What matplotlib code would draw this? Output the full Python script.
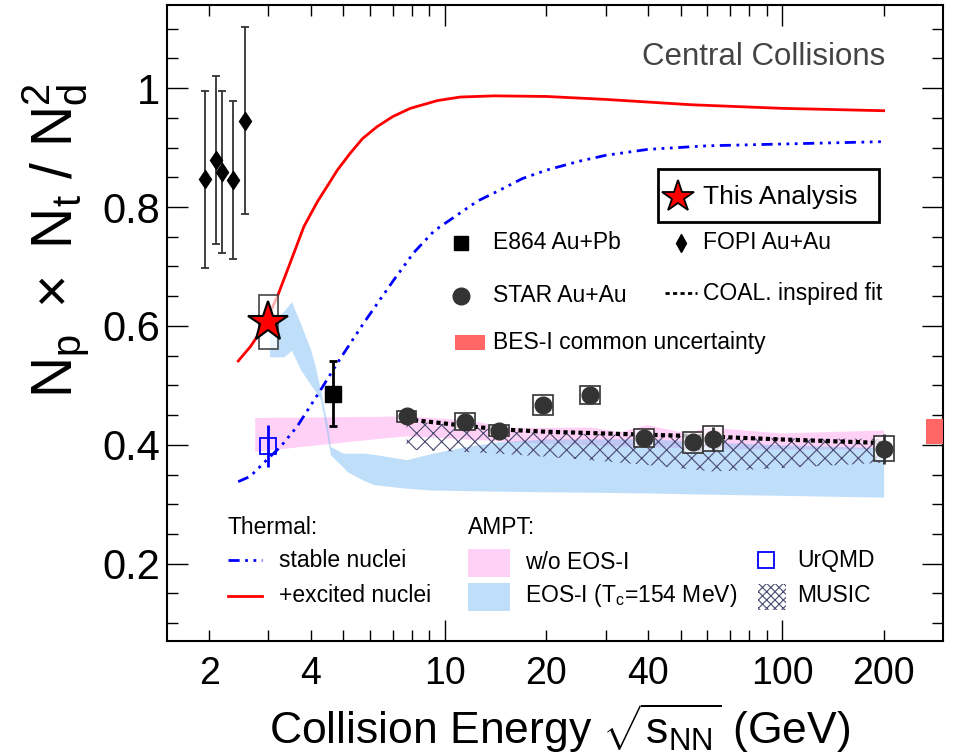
import numpy as np
import matplotlib
matplotlib.use("Agg")
import matplotlib.pyplot as plt
from matplotlib.patches import Rectangle
from matplotlib.ticker import FixedLocator, FuncFormatter

plt.rcParams['font.family'] = ['Liberation Sans', 'DejaVu Sans']
plt.rcParams['mathtext.fontset'] = 'custom'
plt.rcParams['mathtext.rm'] = 'Liberation Sans'
plt.rcParams['mathtext.it'] = 'Liberation Sans'
plt.rcParams['mathtext.sf'] = 'Liberation Sans'
plt.rcParams['hatch.linewidth'] = 0.8

# --- measurements ---
this_e = [3.0]
this_y = [0.607]
this_sys = [0.045]

star_e = [7.7, 11.5, 14.5, 19.6, 27, 39, 54.4, 62.4, 200]
star_y = [0.448, 0.439, 0.424, 0.467, 0.484, 0.412, 0.404, 0.410, 0.393]
star_stat = [0.004, 0.005, 0.004, 0.005, 0.005, 0.005, 0.006, 0.020, 0.026]
star_sys = [0.009, 0.014, 0.009, 0.016, 0.015, 0.015, 0.017, 0.021, 0.021]

e864_e = [4.65]
e864_y = [0.486]
e864_err = [0.055]

fopi_e = [1.95, 2.09, 2.18, 2.35, 2.55]
fopi_y = [0.847, 0.879, 0.859, 0.845, 0.945]
fopi_err = [0.149, 0.142, 0.137, 0.133, 0.157]

urqmd_e = [3.0]
urqmd_y = [0.398]
urqmd_err = [0.035]

# COAL inspired fit
fit_e = [7.7, 11.5, 14.5, 20, 30, 40, 60, 100, 200]
fit_y = [0.443, 0.432, 0.426, 0.422, 0.419, 0.417, 0.414, 0.409, 0.403]

# thermal model
th_exc_e = [2.44, 2.65, 2.90, 3.19, 3.5, 3.82, 4.0, 4.2, 4.48, 4.8, 5.25, 5.7, 6.29, 7.0, 7.9, 9.5,
            11.1, 14, 20, 30, 54, 100, 200]
th_exc_y = [0.541, 0.565, 0.598, 0.650, 0.710, 0.767, 0.788, 0.810, 0.835, 0.862, 0.891, 0.915,
            0.935, 0.952, 0.966, 0.979, 0.985, 0.987, 0.986, 0.981, 0.972, 0.966, 0.962]
th_stb_e = [2.44, 2.65, 2.97, 3.26, 3.65, 4.28, 4.87, 5.75, 7.05, 8.08, 9.3, 11.1, 12.5, 14.5, 17,
            20, 25, 30, 40, 60, 100, 200]
th_stb_y = [0.338, 0.347, 0.375, 0.397, 0.431, 0.492, 0.543, 0.605, 0.677, 0.723, 0.760, 0.790,
            0.810, 0.828, 0.848, 0.862, 0.877, 0.887, 0.897, 0.903, 0.906, 0.910]

# AMPT bands
ampt_e = [2.73, 6.4, 7.7, 11.5, 16, 27, 33, 39.7, 52, 60, 99, 200]
ampt_lo = [0.389, 0.411, 0.415, 0.410, 0.405, 0.400, 0.398, 0.397, 0.395, 0.394, 0.393, 0.393]
ampt_hi = [0.446, 0.448, 0.449, 0.442, 0.429, 0.430, 0.422, 0.434, 0.420, 0.430, 0.420, 0.425]

eos_e = [3.02, 3.33, 3.51, 3.73, 4.0, 4.13, 4.28, 4.48, 4.58, 5.0, 5.13, 5.75, 6.16, 7.7, 9.06,
         11.5, 14.5, 20, 30, 40, 60, 100, 200]
eos_lo = [0.548, 0.548, 0.559, 0.527, 0.501, 0.490, 0.476, 0.414, 0.383, 0.362, 0.355, 0.340,
          0.333, 0.327, 0.324, 0.323, 0.322, 0.321, 0.320, 0.319, 0.317, 0.315, 0.312]
eos_hi = [0.600, 0.625, 0.641, 0.605, 0.560, 0.532, 0.492, 0.436, 0.397, 0.386, 0.386, 0.386,
          0.384, 0.375, 0.385, 0.397, 0.405, 0.410, 0.410, 0.410, 0.405, 0.400, 0.395]

music_e = [7.7, 11.5, 14.5, 20, 30, 40, 62.4, 100, 200]
music_lo = [0.392, 0.388, 0.385, 0.380, 0.372, 0.366, 0.355, 0.361, 0.370]
music_hi = [0.440, 0.432, 0.424, 0.419, 0.418, 0.416, 0.413, 0.411, 0.410]

bes_e = [267, 300]
bes_lo = 0.402
bes_hi = 0.444

xtick_labels = {2: '2', 4: '4', 10: '10', 20: '20', 40: '40', 100: '100', 200: '200'}
ytick_vals = [0.2, 0.4, 0.6, 0.8, 1.0]
ytick_labels = ['0.2', '0.4', '0.6', '0.8', '1']

pink = (1.0, 0.6, 0.93, 0.45)
lblue = (0.5, 0.75, 0.96, 0.5)
hatch_col = '#4a4a70'
leg_fs = 16.5

fig = plt.figure(figsize=(9.54, 7.55), dpi=100)
ax = fig.add_axes([0.175, 0.151, 0.8135, 0.8425])
ax.set_xscale('log')
ax.set_xlim(1.5, 300)
ax.set_ylim(0.07, 1.14)

# bands
ax.fill_between(ampt_e, ampt_lo, ampt_hi, color=pink, lw=0, zorder=1)
ax.fill_between(eos_e, eos_lo, eos_hi, color=lblue, lw=0, zorder=2)
ax.fill_between(music_e, music_lo, music_hi, facecolor='none', edgecolor=hatch_col,
                hatch='xx', lw=0, zorder=3)
ax.fill_between(bes_e, bes_lo, bes_hi, color='#ff6666', lw=0, zorder=3, clip_on=False)

# thermal curves
ax.plot(th_exc_e, th_exc_y, color='red', lw=2, zorder=4)
ax.plot(th_stb_e, th_stb_y, color='blue', lw=2, dashes=(4, 2, 1, 2, 1, 2, 1, 2), zorder=4)

# coalescence fit
ax.plot(fit_e, fit_y, color='black', lw=3, dashes=(1, 0.8), zorder=5)

# systematic boxes
def sys_box(e, y, s, **kw):
    w = 1.07
    ax.add_patch(Rectangle((e / w, y - s), e * w - e / w, 2 * s, **kw))

for e, y, s in zip(star_e, star_y, star_sys):
    sys_box(e, y, s, facecolor=(1, 1, 1, 0.7), edgecolor='#333333', lw=1.2, zorder=6)
for e, y, s in zip(this_e, this_y, this_sys):
    sys_box(e, y, s, facecolor=(1, 1, 1, 0.7), edgecolor='#444444', lw=1.2, zorder=6)

# points
ax.errorbar(fopi_e, fopi_y, yerr=fopi_err, fmt='d', color='black', ms=9.5, ecolor='#333333',
            elinewidth=1.3, capsize=3, capthick=1.3, zorder=7)
ax.errorbar(e864_e, e864_y, yerr=e864_err, fmt='s', color='black', ms=11, elinewidth=2,
            capsize=3, capthick=2, zorder=7)
ax.errorbar(star_e, star_y, yerr=star_stat, fmt='o', color='#333333', ms=12, elinewidth=2,
            capsize=0, zorder=7)
ax.errorbar(urqmd_e, urqmd_y, yerr=urqmd_err, fmt='s', mfc='none', mec='blue', mew=1.3,
            color='blue', ms=12, elinewidth=2, capsize=0, zorder=7)
ax.plot(this_e, this_y, marker='*', ms=30, mfc='red', mec='black', mew=1.5, ls='none', zorder=8)

# axes styling
for sp in ax.spines.values():
    sp.set_linewidth(1.5)
ax.xaxis.set_major_locator(FixedLocator([10, 100]))
ax.xaxis.set_minor_locator(FixedLocator([2, 3, 4, 5, 6, 7, 8, 9, 20, 30, 40, 50, 60, 70, 80, 90, 200]))
fmt = FuncFormatter(lambda v, p: xtick_labels.get(int(round(v)), ''))
ax.xaxis.set_major_formatter(fmt)
ax.xaxis.set_minor_formatter(fmt)
ax.yaxis.set_major_locator(FixedLocator(ytick_vals))
ax.set_yticklabels(ytick_labels)
ax.yaxis.set_minor_locator(FixedLocator(np.arange(0.1, 1.13, 0.05)))
ax.tick_params(which='both', direction='in', top=True, right=True, width=1)
ax.tick_params(which='major', length=15)
ax.tick_params(which='minor', length=8)
ax.tick_params(axis='x', which='both', labelsize=27, pad=11)
ax.tick_params(axis='y', which='both', labelsize=30, pad=5)

ax.text(-0.144, 0.63, r'$\mathrm{N_{p}\ \times\ N_{t}\ /\ N_{d}^{2}}$', transform=ax.transAxes,
        rotation=90, ha='center', va='center', fontsize=41)
ax.text(0.506, -0.137, r'Collision Energy $\sqrt{\mathrm{s_{NN}}}$ (GeV)', transform=ax.transAxes,
        ha='center', va='center', fontsize=32)

ax.text(0.925, 0.918, 'Central Collisions', transform=ax.transAxes, ha='right', va='center',
        fontsize=22.5, color='#444444')

# upper legend
T = ax.transAxes
ax.add_patch(Rectangle((0.633, 0.659), 0.2845, 0.083, transform=T, facecolor='white',
                       edgecolor='black', lw=2, zorder=9))
ax.plot([0.6585], [0.698], transform=T, marker='*', ms=24, mfc='red', mec='black', mew=1.3, zorder=10)
ax.text(0.691, 0.698, 'This Analysis', transform=T, va='center', fontsize=19, zorder=10)

ax.plot([0.379], [0.626], transform=T, marker='s', ms=10, color='black')
ax.text(0.42, 0.626, 'E864 Au+Pb', transform=T, va='center', fontsize=leg_fs)
ax.plot([0.662], [0.626], transform=T, marker='d', ms=9, color='black')
ax.text(0.691, 0.626, 'FOPI Au+Au', transform=T, va='center', fontsize=leg_fs)
ax.plot([0.379], [0.5425], transform=T, marker='o', ms=12, color='#333333')
ax.text(0.42, 0.5425, 'STAR Au+Au', transform=T, va='center', fontsize=leg_fs)
ax.plot([0.642, 0.683], [0.547, 0.547], transform=T, color='black', lw=2, dashes=(1.5, 1.2))
ax.text(0.691, 0.547, 'COAL. inspired fit', transform=T, va='center', fontsize=leg_fs)
ax.add_patch(Rectangle((0.371, 0.4575), 0.039, 0.0235, transform=T, color='#ff6666', lw=0))
ax.text(0.42, 0.470, 'BES-I common uncertainty', transform=T, va='center', fontsize=leg_fs)

# lower legend
ax.text(0.0786, 0.179, 'Thermal:', transform=T, va='center', fontsize=leg_fs)
ax.plot([0.0786, 0.122], [0.127, 0.127], transform=T, color='blue', lw=2, dashes=(4, 2, 1, 2, 1, 2, 1, 2))
ax.text(0.145, 0.127, 'stable nuclei', transform=T, va='center', fontsize=leg_fs)
ax.plot([0.0786, 0.122], [0.0708, 0.0708], transform=T, color='red', lw=2)
ax.text(0.145, 0.0708, '+excited nuclei', transform=T, va='center', fontsize=leg_fs)

ax.text(0.388, 0.179, 'AMPT:', transform=T, va='center', fontsize=leg_fs)
ax.add_patch(Rectangle((0.388, 0.1006), 0.054, 0.044, transform=T, color=pink, lw=0))
ax.text(0.461, 0.124, 'w/o EOS-I', transform=T, va='center', fontsize=leg_fs)
ax.add_patch(Rectangle((0.388, 0.047), 0.054, 0.044, transform=T, color=lblue, lw=0))
ax.text(0.461, 0.0708, r'EOS-I (T$_{\mathrm{c}}$=154 MeV)', transform=T, va='center', fontsize=leg_fs)

ax.plot([0.772], [0.127], transform=T, marker='s', ms=12, mfc='none', mec='blue', mew=1.3)
ax.text(0.812, 0.127, 'UrQMD', transform=T, va='center', fontsize=leg_fs)
ax.add_patch(Rectangle((0.7616, 0.0487), 0.036, 0.041, transform=T, facecolor='none',
                       edgecolor=hatch_col, hatch='xxxx', lw=0))
ax.text(0.812, 0.0708, 'MUSIC', transform=T, va='center', fontsize=leg_fs)

fig.savefig('out.png', dpi=100)
